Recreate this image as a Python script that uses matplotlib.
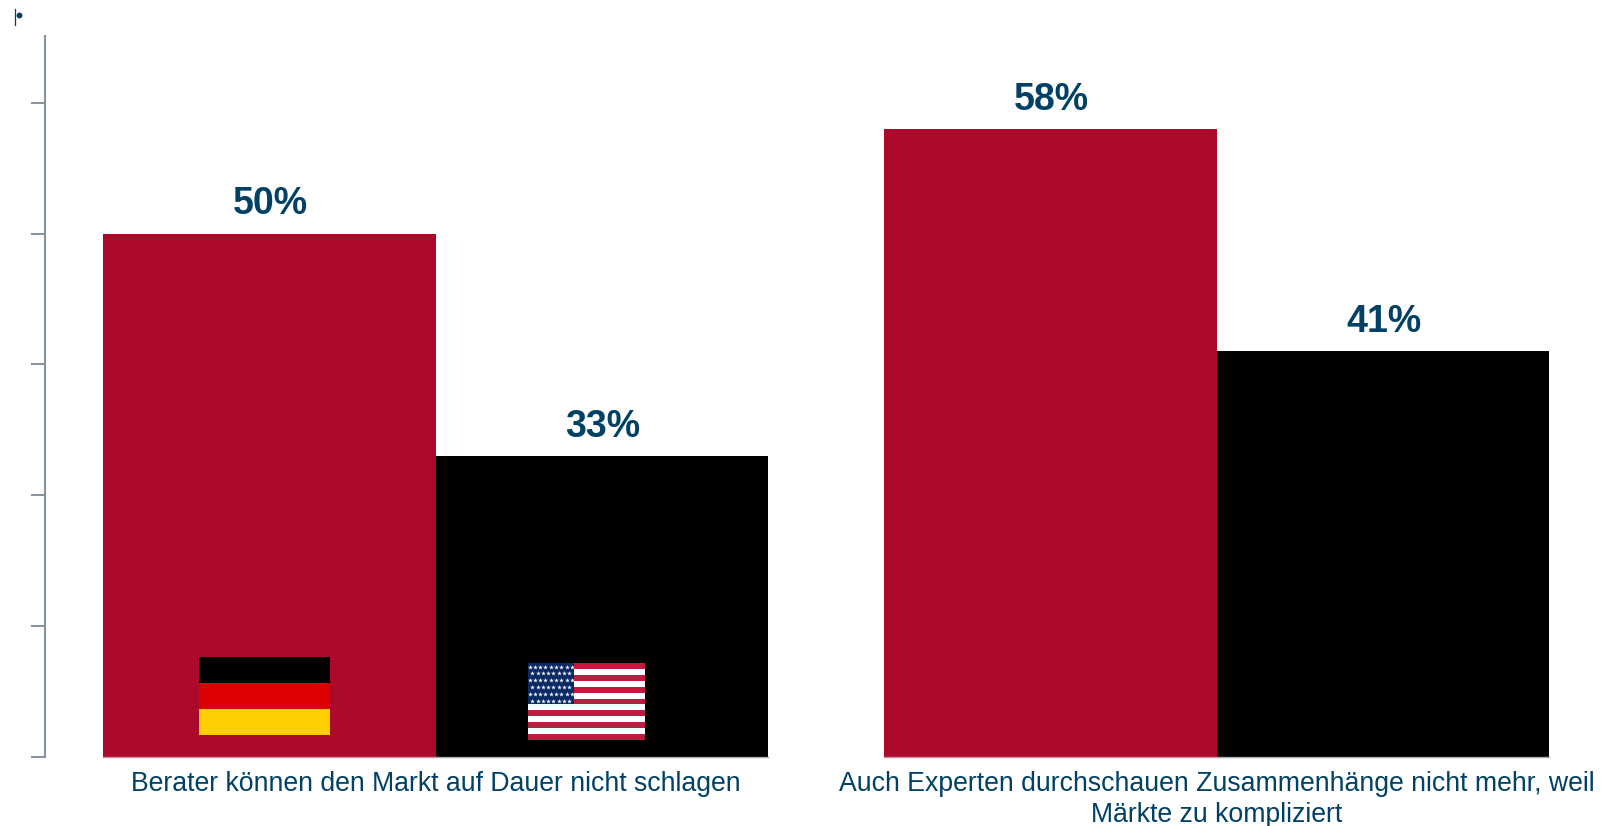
import matplotlib
matplotlib.use("Agg")
import matplotlib.pyplot as plt
from matplotlib.patches import Rectangle

categories = ["Berater können den Markt auf Dauer nicht schlagen",
              "Auch Experten durchschauen Zusammenhänge nicht mehr, weil\nMärkte zu kompliziert"]
germany = [50, 58]
usa = [33, 41]
y_ticks = [10, 20, 30, 40, 50, 60]

W, H = 1601, 826
RED = "#AC0A2C"
BLACK = "#000000"
NAVY = "#004165"
GREY = "#8592A0"

plt.rcParams["font.family"] = ["Liberation Sans", "DejaVu Sans"]
fig = plt.figure(figsize=(W / 100, H / 100), dpi=100, facecolor="white")


def px_axes(x0, y0, x1, y1, **kw):
    """Axes placed by pixel box, with y counted from the top edge."""
    return fig.add_axes([x0 / W, 1 - y1 / H, (x1 - x0) / W, (y1 - y0) / H], **kw)


ax = px_axes(45, 36, 1607, 757)
bar_w = 0.4258
for i in range(2):
    ax.bar(i - bar_w / 2, germany[i], bar_w, color=RED, bottom=0, zorder=2)
    ax.bar(i + bar_w / 2, usa[i], bar_w, color=BLACK, bottom=0, zorder=2)
    ax.text(i - bar_w / 2 + 0.001, germany[i] + 0.85, f"{germany[i]}%", ha="center", va="bottom",
            fontsize=27, fontweight="bold", color=NAVY)
    ax.text(i + bar_w / 2 + 0.001, usa[i] + 0.85, f"{usa[i]}%", ha="center", va="bottom",
            fontsize=27, fontweight="bold", color=NAVY)
    # faint rule along the foot of each bar pair
    ax.plot([i - bar_w, i], [10, 10], color="#D98A9C", lw=1.0, zorder=3, clip_on=False)
    ax.plot([i, i + bar_w], [10, 10], color="#A8A8A8", lw=1.0, zorder=3, clip_on=False)

ax.set_xlim(-0.5, 1.5)
ax.set_ylim(10, 65.1)
ax.set_yticks(y_ticks)
ax.set_yticklabels([])
ax.set_xticks([0, 1])
ax.set_xticklabels(categories, fontsize=19.15, color=NAVY, linespacing=1.26)
ax.tick_params(axis="x", length=0, pad=10)
ax.tick_params(axis="y", length=10, width=1.4, color=GREY)
for side in ("top", "right", "bottom"):
    ax.spines[side].set_visible(False)
ax.spines["left"].set_color(GREY)
ax.spines["left"].set_linewidth(1.5)

# German flag
de = px_axes(199, 657, 330, 735)
de.set_axis_off()
de.set_xlim(0, 1)
de.set_ylim(3, 0)
for row, col in enumerate(["#000000", "#DD0000", "#FFCE00"]):
    de.add_patch(Rectangle((0, row), 1, 1, color=col, lw=0))

# US flag with 48 stars
us = px_axes(528, 663, 645, 740)
us.set_axis_off()
us.set_xlim(0, 117)
us.set_ylim(13, 0)
for row in range(13):
    us.add_patch(Rectangle((0, row), 117, 1, lw=0,
                           color="#BF1B40" if row % 2 == 0 else "white"))
us.add_patch(Rectangle((0, 0), 46, 7, lw=0, color="#0A2A66"))
star_x, star_y = [], []
for row in range(6):
    count = 9 if row % 2 == 0 else 8
    start = 1.5 if row % 2 == 0 else 4.2
    for k in range(count):
        star_x.append(start + k * 5.3)
        star_y.append(0.6 + row * 1.16)
us.scatter(star_x, star_y, marker="*", s=12, color="white", linewidths=0, zorder=3)

# Small stray bullet in the top corner
fig.add_artist(plt.Line2D([14.5 / W, 14.5 / W], [1 - 9 / H, 1 - 25 / H], color=NAVY, lw=0.9))
fig.add_artist(plt.Line2D([18.5 / W], [1 - 15 / H], marker="o", ms=4.2, color=NAVY, mew=0))

fig.savefig("out.png", dpi=100, facecolor="white")
